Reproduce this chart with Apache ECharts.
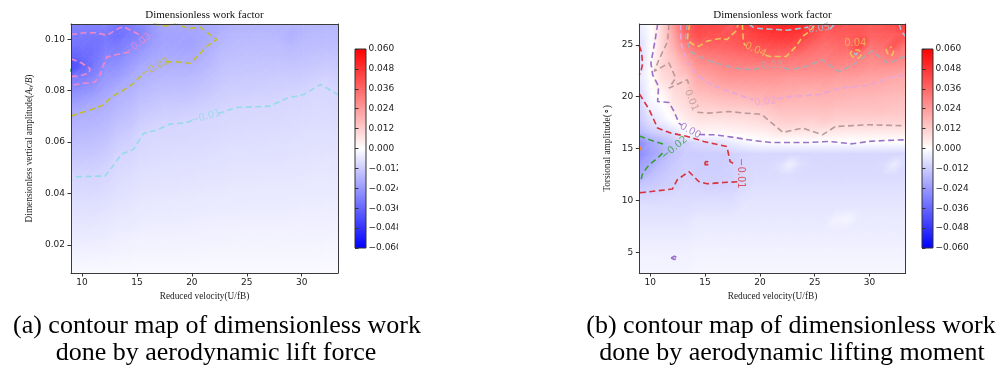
<!DOCTYPE html>
<html><head><meta charset="utf-8">
<script src="https://cdn.jsdelivr.net/npm/echarts@6/dist/echarts.min.js"></script>
<style>html,body{margin:0;padding:0;background:#fff}#c{width:1006px;height:371px}</style>
</head><body><div id="c"></div><script>
// ---------- grid nodes ----------
const xNodes = [9.0,10.06,11.11,12.17,13.23,14.28,15.34,16.40,17.45,18.51,19.57,20.62,21.68,22.73,23.79,24.85,25.90,26.96,28.02,29.07,30.13,31.19,32.24,33.3];
const yNodesA = [0.009,0.0132,0.0174,0.0217,0.0259,0.0301,0.0343,0.0385,0.0427,0.047,0.0512,0.0554,0.0596,0.0638,0.068,0.0723,0.0765,0.0807,0.0849,0.0891,0.0933,0.0976,0.1018,0.106];
const yNodesB = [3.0,4.04,5.09,6.13,7.17,8.22,9.26,10.3,11.35,12.39,13.43,14.48,15.52,16.57,17.61,18.65,19.7,20.74,21.78,22.83,23.87,24.91,25.96,27.0];

// ---------- tick labels ----------
const xTicks = [10,15,20,25,30];
const yTicksA = [0.02,0.04,0.06,0.08,0.10];
const yTicksB = [5,10,15,20,25];
const cbTicks = [-0.06,-0.048,-0.036,-0.024,-0.012,0,0.012,0.024,0.036,0.048,0.06];

// ---------- (a) work factor, one array per x node, bottom -> top ----------
const workA = [
[-0.0015,-0.0024,-0.0034,-0.0044,-0.0053,-0.0063,-0.0072,-0.0082,-0.0092,-0.0102,-0.0119,-0.0135,-0.0152,-0.0169,-0.0185,-0.0204,-0.0239,-0.0274,-0.031,-0.043,-0.037,-0.033,-0.031,-0.029],
[-0.0015,-0.0024,-0.0034,-0.0044,-0.0053,-0.0063,-0.0072,-0.0082,-0.0091,-0.0102,-0.0117,-0.0133,-0.0149,-0.0165,-0.018,-0.0196,-0.0228,-0.0266,-0.0304,-0.036,-0.035,-0.033,-0.0315,-0.0295],
[-0.0015,-0.0024,-0.0034,-0.0044,-0.0053,-0.0063,-0.0072,-0.0082,-0.0091,-0.0101,-0.0116,-0.0131,-0.0146,-0.0161,-0.0176,-0.0191,-0.0213,-0.0248,-0.0283,-0.0315,-0.033,-0.0335,-0.032,-0.0295],
[-0.0015,-0.0024,-0.0033,-0.0042,-0.0051,-0.006,-0.0069,-0.0078,-0.0087,-0.0096,-0.0107,-0.0122,-0.0137,-0.0152,-0.0167,-0.0181,-0.0196,-0.0218,-0.0241,-0.0265,-0.0288,-0.031,-0.0315,-0.029],
[-0.0014,-0.0022,-0.003,-0.0037,-0.0045,-0.0053,-0.0061,-0.0069,-0.0077,-0.0084,-0.0092,-0.01,-0.0116,-0.0132,-0.0148,-0.0164,-0.018,-0.0196,-0.0228,-0.0256,-0.0284,-0.031,-0.034,-0.032],
[-0.0014,-0.0021,-0.0029,-0.0036,-0.0044,-0.0051,-0.0059,-0.0066,-0.0074,-0.0081,-0.0089,-0.0096,-0.0108,-0.0123,-0.0138,-0.0154,-0.0169,-0.0185,-0.02,-0.023,-0.0257,-0.0286,-0.0314,-0.0305],
[-0.0013,-0.002,-0.0027,-0.0033,-0.004,-0.0047,-0.0053,-0.006,-0.0067,-0.0073,-0.008,-0.0087,-0.0093,-0.01,-0.0117,-0.0133,-0.015,-0.0167,-0.0183,-0.02,-0.023,-0.026,-0.0295,-0.028],
[-0.0013,-0.0019,-0.0026,-0.0033,-0.0039,-0.0045,-0.0052,-0.0058,-0.0065,-0.0071,-0.0078,-0.0084,-0.009,-0.0097,-0.0108,-0.0125,-0.0142,-0.0158,-0.0175,-0.0192,-0.021,-0.023,-0.0245,-0.024],
[-0.0013,-0.0019,-0.0026,-0.0032,-0.0038,-0.0045,-0.0051,-0.0057,-0.0063,-0.0069,-0.0076,-0.0082,-0.0088,-0.0095,-0.0101,-0.0118,-0.0135,-0.0151,-0.0167,-0.0184,-0.02,-0.0215,-0.022,-0.0205],
[-0.0013,-0.0019,-0.0026,-0.0032,-0.0038,-0.0044,-0.005,-0.0057,-0.0063,-0.0069,-0.0075,-0.0081,-0.0088,-0.0094,-0.01,-0.0117,-0.0133,-0.0149,-0.0165,-0.0182,-0.0199,-0.0215,-0.0218,-0.0203],
[-0.0013,-0.0019,-0.0025,-0.0031,-0.0037,-0.0044,-0.005,-0.0056,-0.0062,-0.0068,-0.0074,-0.008,-0.0086,-0.0092,-0.0098,-0.0113,-0.0131,-0.0149,-0.0166,-0.0184,-0.0202,-0.022,-0.0215,-0.0202],
[-0.0013,-0.0019,-0.0025,-0.0031,-0.0037,-0.0043,-0.0049,-0.0055,-0.0061,-0.0067,-0.0073,-0.0079,-0.0085,-0.0091,-0.0097,-0.0108,-0.0125,-0.0142,-0.0158,-0.0175,-0.0192,-0.0208,-0.0212,-0.0204],
[-0.0013,-0.0018,-0.0024,-0.003,-0.0036,-0.0042,-0.0048,-0.0054,-0.006,-0.0065,-0.0071,-0.0077,-0.0083,-0.0089,-0.0095,-0.0104,-0.0118,-0.0132,-0.0146,-0.0161,-0.0175,-0.0189,-0.0203,-0.0198],
[-0.0013,-0.0018,-0.0024,-0.003,-0.0035,-0.0041,-0.0047,-0.0052,-0.0058,-0.0064,-0.007,-0.0075,-0.0081,-0.0087,-0.0092,-0.0098,-0.011,-0.0121,-0.0133,-0.0144,-0.0156,-0.0167,-0.0179,-0.019],
[-0.0013,-0.0018,-0.0023,-0.0029,-0.0035,-0.004,-0.0046,-0.0051,-0.0056,-0.0062,-0.0067,-0.0072,-0.0078,-0.0084,-0.0089,-0.0095,-0.0105,-0.0116,-0.0127,-0.0137,-0.0148,-0.0159,-0.0169,-0.018],
[-0.0013,-0.0018,-0.0023,-0.0029,-0.0034,-0.004,-0.0045,-0.0051,-0.0056,-0.0062,-0.0067,-0.0072,-0.0078,-0.0083,-0.0089,-0.0094,-0.0104,-0.0115,-0.0125,-0.0136,-0.0147,-0.0158,-0.0168,-0.0178],
[-0.0013,-0.0018,-0.0023,-0.0029,-0.0034,-0.004,-0.0045,-0.005,-0.0056,-0.0061,-0.0066,-0.0072,-0.0077,-0.0083,-0.0088,-0.0093,-0.0102,-0.0113,-0.0124,-0.0135,-0.0146,-0.0157,-0.0167,-0.0176],
[-0.0013,-0.0018,-0.0023,-0.0029,-0.0034,-0.0039,-0.0045,-0.005,-0.0055,-0.006,-0.0066,-0.0071,-0.0076,-0.0082,-0.0087,-0.0092,-0.0101,-0.0111,-0.0122,-0.0133,-0.0145,-0.0156,-0.0166,-0.0175],
[-0.0013,-0.0018,-0.0023,-0.0029,-0.0034,-0.0039,-0.0044,-0.005,-0.0055,-0.006,-0.0065,-0.007,-0.0076,-0.0081,-0.0086,-0.0091,-0.0099,-0.0109,-0.012,-0.0132,-0.0145,-0.0158,-0.017,-0.0175],
[-0.0013,-0.0018,-0.0023,-0.0028,-0.0033,-0.0038,-0.0044,-0.0049,-0.0054,-0.0059,-0.0064,-0.0069,-0.0075,-0.008,-0.0085,-0.009,-0.0095,-0.0107,-0.012,-0.0135,-0.015,-0.0165,-0.0185,-0.0175],
[-0.0013,-0.0018,-0.0023,-0.0028,-0.0033,-0.0038,-0.0043,-0.0048,-0.0053,-0.0058,-0.0063,-0.0068,-0.0073,-0.0078,-0.0083,-0.0088,-0.0093,-0.0103,-0.0117,-0.0131,-0.0145,-0.0158,-0.017,-0.017],
[-0.0013,-0.0018,-0.0023,-0.0028,-0.0032,-0.0037,-0.0042,-0.0047,-0.0052,-0.0056,-0.0061,-0.0066,-0.0071,-0.0076,-0.008,-0.0085,-0.009,-0.0095,-0.011,-0.0126,-0.0142,-0.0156,-0.0165,-0.017],
[-0.0012,-0.0017,-0.0022,-0.0027,-0.0032,-0.0037,-0.0041,-0.0046,-0.0051,-0.0056,-0.006,-0.0065,-0.007,-0.0075,-0.0079,-0.0084,-0.0089,-0.0094,-0.0103,-0.012,-0.0137,-0.0152,-0.0162,-0.0168],
[-0.0012,-0.0017,-0.0022,-0.0027,-0.0032,-0.0038,-0.0043,-0.0048,-0.0053,-0.0058,-0.0063,-0.0068,-0.0073,-0.0078,-0.0084,-0.0089,-0.0094,-0.01,-0.0114,-0.0128,-0.0142,-0.0155,-0.0165,-0.017]
];

// ---------- (b) work factor, one array per x node, bottom -> top ----------
const workB = [
[-0.0025,-0.003,-0.0035,-0.0045,-0.0055,-0.0065,-0.007,-0.0095,-0.013,-0.019,-0.023,-0.027,-0.027,-0.017,-0.013,-0.011,-0.01,-0.008,-0.006,-0.008,-0.009,-0.008,-0.006,-0.004],
[-0.0025,-0.003,-0.0035,-0.0045,-0.0055,-0.0065,-0.0075,-0.0095,-0.0125,-0.015,-0.019,-0.022,-0.02,-0.012,-0.007,-0.004,-0.0015,-0.0005,0,0.0005,0,0,-0.0005,0],
[-0.0025,-0.003,-0.0035,-0.0045,-0.0055,-0.0065,-0.0075,-0.009,-0.0115,-0.013,-0.015,-0.0175,-0.017,-0.01,-0.004,-0.0015,0.0005,0.004,0.008,0.0105,0.0095,0.0095,0.01,0.01],
[-0.0025,-0.003,-0.0035,-0.0045,-0.0055,-0.0065,-0.0075,-0.0085,-0.0105,-0.0115,-0.0125,-0.014,-0.013,-0.007,0,0.004,0.007,0.009,0.011,0.012,0.015,0.019,0.022,0.025],
[-0.0025,-0.003,-0.0035,-0.0045,-0.0055,-0.0065,-0.0075,-0.0085,-0.0095,-0.01,-0.011,-0.012,-0.011,-0.001,0.004,0.007,0.0095,0.011,0.013,0.018,0.023,0.03,0.036,0.04],
[-0.002,-0.0025,-0.003,-0.004,-0.0045,-0.0055,-0.007,-0.0085,-0.0098,-0.011,-0.0115,-0.012,-0.009,0.002,0.006,0.0095,0.013,0.017,0.0205,0.025,0.029,0.036,0.042,0.043],
[-0.002,-0.0025,-0.003,-0.004,-0.0045,-0.0055,-0.007,-0.0085,-0.0105,-0.011,-0.0115,-0.0115,-0.008,0.002,0.006,0.01,0.014,0.018,0.022,0.026,0.031,0.037,0.0415,0.043],
[-0.002,-0.0025,-0.003,-0.004,-0.0045,-0.0055,-0.007,-0.0085,-0.0105,-0.011,-0.0115,-0.0115,-0.007,0.002,0.006,0.0105,0.015,0.0195,0.024,0.028,0.032,0.037,0.041,0.043],
[-0.002,-0.0025,-0.003,-0.004,-0.0045,-0.0055,-0.007,-0.0085,-0.01,-0.0105,-0.0105,-0.0105,-0.005,0.0025,0.0065,0.011,0.0155,0.02,0.025,0.029,0.033,0.038,0.04,0.039],
[-0.002,-0.0025,-0.003,-0.004,-0.0045,-0.0055,-0.006,-0.007,-0.0085,-0.009,-0.0095,-0.01,-0.003,0.003,0.007,0.011,0.016,0.0205,0.025,0.029,0.034,0.0395,0.042,0.046],
[-0.002,-0.0025,-0.003,-0.004,-0.0045,-0.0055,-0.006,-0.0065,-0.0075,-0.0085,-0.009,-0.0095,-0.0015,0.0035,0.008,0.0115,0.017,0.021,0.025,0.029,0.035,0.0405,0.045,0.048],
[-0.002,-0.0025,-0.003,-0.004,-0.0045,-0.0055,-0.006,-0.0065,-0.0075,-0.0085,-0.009,-0.0095,-0.001,0.004,0.009,0.013,0.0185,0.021,0.025,0.029,0.036,0.0415,0.047,0.05],
[-0.002,-0.0025,-0.003,-0.004,-0.0045,-0.0055,-0.006,-0.0065,-0.0075,-0.0085,-0.008,-0.0095,-0.001,0.006,0.011,0.0145,0.0185,0.021,0.025,0.029,0.035,0.042,0.048,0.051],
[-0.002,-0.0025,-0.003,-0.004,-0.0045,-0.0055,-0.006,-0.0065,-0.0075,-0.008,-0.004,-0.0095,-0.001,0.006,0.0115,0.0145,0.018,0.0205,0.024,0.0285,0.034,0.042,0.048,0.052],
[-0.002,-0.0025,-0.003,-0.004,-0.0045,-0.0055,-0.006,-0.0065,-0.0075,-0.0085,-0.008,-0.0095,-0.001,0.006,0.011,0.0145,0.0175,0.02,0.024,0.0285,0.033,0.04,0.046,0.051],
[-0.002,-0.0025,-0.003,-0.004,-0.0045,-0.0055,-0.006,-0.0065,-0.0075,-0.0085,-0.009,-0.0095,-0.001,0.006,0.0105,0.0145,0.0175,0.0195,0.024,0.028,0.0315,0.036,0.042,0.046],
[-0.002,-0.0025,-0.003,-0.004,-0.0045,-0.0055,-0.006,-0.0065,-0.0075,-0.0085,-0.009,-0.0095,-0.001,0.0055,0.012,0.015,0.018,0.0205,0.024,0.028,0.0305,0.034,0.038,0.042],
[-0.002,-0.0025,-0.003,-0.004,-0.0045,-0.003,-0.006,-0.0065,-0.0075,-0.0085,-0.009,-0.0095,-0.001,0.0055,0.0105,0.014,0.0175,0.0195,0.023,0.028,0.032,0.035,0.0385,0.041],
[-0.002,-0.0025,-0.003,-0.004,-0.0045,-0.0025,-0.006,-0.0065,-0.0075,-0.0085,-0.009,-0.0095,-0.001,0.005,0.0105,0.014,0.017,0.0195,0.023,0.027,0.031,0.036,0.039,0.04],
[-0.002,-0.0025,-0.003,-0.004,-0.0045,-0.005,-0.006,-0.0065,-0.0075,-0.0085,-0.009,-0.0095,-0.0005,0.005,0.0105,0.014,0.0165,0.019,0.0225,0.027,0.031,0.045,0.04,0.04],
[-0.002,-0.0025,-0.003,-0.004,-0.0045,-0.005,-0.006,-0.0065,-0.0075,-0.0085,-0.009,-0.0095,-0.001,0.005,0.0105,0.014,0.0165,0.019,0.022,0.0255,0.0285,0.033,0.037,0.039],
[-0.002,-0.0025,-0.003,-0.004,-0.0045,-0.005,-0.006,-0.0065,-0.0075,-0.0085,-0.0085,-0.0095,-0.001,0.005,0.0105,0.014,0.016,0.0185,0.0215,0.026,0.03,0.0345,0.038,0.04],
[-0.002,-0.0025,-0.003,-0.004,-0.0045,-0.005,-0.006,-0.0065,-0.0075,-0.0085,-0.005,-0.0095,-0.001,0.005,0.0105,0.0135,0.0155,0.018,0.0205,0.0255,0.031,0.04,0.038,0.042],
[-0.002,-0.0025,-0.003,-0.004,-0.0045,-0.005,-0.006,-0.0065,-0.0075,-0.0085,-0.0085,-0.0095,-0.001,0.005,0.0105,0.0135,0.015,0.0175,0.02,0.0245,0.029,0.032,0.04,0.048]
];

// ---------- contour lines (a): segments of [U/fB, Ah/B] ----------
const contoursA = {
  '-0.03': [
    [[9.0,0.1019],[10.27,0.1026],[11.34,0.1026],[12.25,0.1016],[13.31,0.1042],[13.76,0.1050],[14.98,0.1024],[15.5,0.1010]],
    [[14.3,0.0950],[13.46,0.0944],[12.25,0.0931],[11.94,0.0899],[11.64,0.0860],[11.18,0.0834],[9.97,0.0828],[9.0,0.0821]],
    [[9.0,0.0925],[9.97,0.0908],[10.73,0.0886],[10.64,0.0869],[9.66,0.0856],[9.0,0.0856]]
  ],
  '-0.04': [
    [[9.0,0.0874],[9.15,0.0880],[9.0,0.0886]]
  ],
  '-0.02': [
    [[9.0,0.0702],[10.88,0.0727],[11.94,0.0744],[12.70,0.0776],[13.76,0.0802],[14.67,0.0828],[15.44,0.0860],[15.65,0.0868]],
    [[17.65,0.0913],[18.93,0.0912],[19.84,0.0906],[20.29,0.0925],[21.36,0.0973],[22.27,0.0999],[21.36,0.1028],[20.75,0.1048],[19.68,0.1042],[18.62,0.1060]],
    [[16.49,0.1060],[17.56,0.1052],[18.56,0.1060]]
  ],
  '-0.01': [
    [[9.45,0.0465],[12.1,0.0468],[13.0,0.0517],[13.6,0.0553],[14.7,0.0572],[15.6,0.0634],[16.8,0.0647],[18.0,0.0670],[19.4,0.0675],[20.1,0.0685]],
    [[22.4,0.0711],[24.1,0.0735],[27.1,0.0740],[28.6,0.0770],[30.2,0.0785],[31.7,0.0825],[33.3,0.0785]]
  ]
};
const labelsA = [
  {text:'\u22120.03', level:'-0.03', at:[15.1,0.0981]},
  {text:'\u22120.02', level:'-0.02', at:[16.65,0.0890]},
  {text:'\u22120.01', level:'-0.01', at:[21.25,0.0698]}
];

// ---------- contour lines (b): segments of [U/fB, degrees] ----------
const contoursB = {
  '-0.03': [ [[9.0,14.8],[9.12,15.0],[9.0,15.2]] ],
  '-0.02': [
    [[9.0,16.2],[9.16,16.16],[10.36,15.68],[11.3,15.4]],
    [[11.12,14.55],[10.67,14.07],[9.91,13.43],[9.31,12.63],[9.16,11.98],[9.0,11.9]]
  ],
  '-0.01': [
    [[9.0,24.9],[9.2,24.3],[9.3,23.2],[9.15,22.4],[9.0,22.1]],
    [[9.0,20.25],[9.16,20.01],[9.91,18.73],[10.67,16.97],[11.87,16.49],[13.38,16.16],[14.87,15.68],[16.99,15.19],[17.28,13.75],[17.6,13.55]],
    [[17.95,11.8],[17.44,11.76],[16.68,11.72],[15.18,11.6],[14.42,11.82],[13.52,12.78],[12.47,11.99],[12.02,11.09],[9.31,10.76],[9.0,10.74]],
    [[14.95,13.45],[15.05,13.75],[15.35,13.72],[15.3,13.45],[14.95,13.45]]
  ],
  '0.00': [
    [[10.67,27.0],[10.45,25.48],[10.06,23.24],[10.22,22.1],[10.76,20.98],[10.67,19.53],[11.71,19.44],[12.17,18.57],[12.62,17.45],[12.85,17.25]],
    [[14.45,16.35],[15.93,16.32],[17.44,16.1],[18.94,15.84],[20.14,15.68],[21.05,15.58],[22.7,15.58],[24.5,15.58],[26.3,15.68],[28.4,15.45],[29.9,15.68],[31.4,15.77],[33.3,15.84]],
    [[11.9,4.45],[12.2,4.62],[12.5,4.45],[12.2,4.3],[11.9,4.45]]
  ],
  '0.01': [
    [[11.71,27.0],[11.57,25.3],[10.81,23.6],[10.36,22.43],[11.71,23.24],[12.32,21.79],[11.71,20.82],[13.38,21.62],[13.6,20.9]],
    [[14.3,18.5],[15.33,18.41],[17.13,18.57],[18.64,18.41],[20.14,18.3],[22.1,16.55],[23.9,16.97],[25.7,16.32],[26.9,17.12],[29.9,17.29],[33.3,17.19]]
  ],
  '0.02': [
    [[12.75,27.0],[12.8,25.2],[13.3,23.4],[14.3,22.0],[15.6,21.1],[17.2,20.5],[18.8,19.9],[19.4,19.7]],
    [[21.6,19.8],[22.7,20.0],[25.4,20.2],[27.2,20.8],[29.9,21.1],[31.7,21.8],[33.3,22.1]]
  ],
  '0.03': [
    [[13.38,27.0],[13.22,25.8],[13.67,24.35],[14.73,23.72],[15.93,23.24],[17.73,22.75],[19.24,22.59],[20.0,22.75]],
    [[22.2,22.75],[22.7,22.6],[24.2,22.9],[25.7,23.55],[27.2,22.4],[28.7,23.2],[30.2,24.4],[31.7,23.2],[33.3,23.9]]
  ],
  '0.04': [
    [[13.6,27.0],[13.45,26.1],[13.38,25.4],[13.97,25.0],[14.42,24.84],[15.18,25.35],[16.38,25.6],[17.0,25.5],[17.89,26.4],[18.0,27.0]],
    [[18.4,27.0],[18.5,25.2],[18.7,24.9]],
    [[20.5,24.0],[20.89,23.87],[22.4,23.87],[23.3,24.84],[23.9,25.8],[24.5,26.28],[25.1,27.0]],
    [[28.2,24.2],[28.5,23.8],[29.0,23.7],[29.3,24.1],[29.0,24.5],[28.5,24.5],[28.2,24.2]],
    [[31.5,24.6],[31.7,24.0],[32.1,24.0],[32.2,24.4],[31.9,24.8]]
  ],
  '0.05': [
    [[19.0,27.0],[19.5,26.6],[21.0,26.5],[22.5,26.4],[24.4,26.7]],
    [[26.4,26.5],[26.8,27.0]],
    [[32.7,27.0],[32.9,26.3],[33.3,25.8]],
    [[28.6,24.2],[28.75,24.0],[28.9,24.2],[28.75,24.35],[28.6,24.2]]
  ]
};
const labelsB = [
  {text:'\u22120.02', level:'-0.02', at:[12.2,15.05]},
  {text:'\u22120.01', level:'-0.01', at:[18.25,12.6]},
  {text:'0.00', level:'0.00', at:[13.65,16.7]},
  {text:'0.01', level:'0.01', at:[13.75,19.65]},
  {text:'0.02', level:'0.02', at:[20.5,19.5]},
  {text:'0.03', level:'0.03', at:[21.1,23.0]},
  {text:'0.04', level:'0.04', at:[19.6,24.5]},
  {text:'0.04', level:'0.04', at:[28.7,25.1]},
  {text:'0.05', level:'0.05', at:[25.4,26.55]}
];

// ---------- styles ----------
const lineColor = {'-0.04':'#3fae3f', '-0.03':'#ee88c8', '-0.02':'#c4bd2c', '-0.01':'#95dbe8'};
const lineColorB = {
  '-0.03':'#ff8c1a', '-0.02':'#35a035', '-0.01':'#d9323a', '0.00':'#9a6fc8',
  '0.01':'#b99a98', '0.02':'#e6a6dc', '0.03':'#a9aab2', '0.04':'#ecc25a', '0.05':'#9fc9d8'
};
const labelAngleA = [38, 28, 15];
const labelAngleB = [40, -90, -28, -68, 6, 4, -25, 0, 8];
const VMIN = -0.06, VMAX = 0.06;
const SERIF = '"Liberation Serif","Times New Roman",serif';
const SANS = '"DejaVu Sans",sans-serif';

// matplotlib "bwr" colour map
function bwr(v){
  let t = (v - VMIN) / (VMAX - VMIN);
  t = Math.max(0, Math.min(1, t));
  let r, g, b;
  if (t < 0.5) { const k = t / 0.5; r = g = Math.round(255 * k); b = 255; }
  else { const k = (1 - t) / 0.5; r = 255; g = b = Math.round(255 * k); }
  return 'rgb(' + r + ',' + g + ',' + b + ')';
}
// linear (Gouraud-like) shading of one triangle using a global linear gradient
function triFill(P, V){
  const p0 = P[0], p1 = P[1], p2 = P[2];
  const v0 = V[0], v1 = V[1], v2 = V[2];
  const ax = p1[0]-p0[0], ay = p1[1]-p0[1], bx = p2[0]-p0[0], by = p2[1]-p0[1];
  const det = ax*by - ay*bx;
  const lo = Math.min(v0,v1,v2), hi = Math.max(v0,v1,v2);
  if (Math.abs(det) < 1e-9 || hi - lo < 1e-9) return bwr((v0+v1+v2)/3);
  const d1 = v1 - v0, d2 = v2 - v0;
  const gx = (d1*by - d2*ay) / det;
  const gy = (ax*d2 - bx*d1) / det;
  const g2 = gx*gx + gy*gy;
  if (g2 < 1e-18) return bwr((v0+v1+v2)/3);
  const la = (lo - v0) / g2, lb = (hi - v0) / g2;
  const stops = [{offset:0, color:bwr(lo)}];
  if (lo < 0 && hi > 0) stops.push({offset:(0 - lo)/(hi - lo), color:bwr(0)});
  stops.push({offset:1, color:bwr(hi)});
  return new echarts.graphic.LinearGradient(p0[0]+la*gx, p0[1]+la*gy, p0[0]+lb*gx, p0[1]+lb*gy, stops, true);
}
function fieldSeries(work, xs, ys, xi, yi){
  const data = [];
  for (let i = 0; i < xs.length - 1; i++)
    for (let j = 0; j < ys.length - 1; j++) data.push([xs[i], ys[j], i, j]);
  return {type:'custom', xAxisIndex:xi, yAxisIndex:yi, data:data, z:1, silent:true, animation:false, clip:true,
    renderItem:(params, api)=>{
      const i = api.value(2), j = api.value(3);
      const p00 = api.coord([xs[i], ys[j]]), p10 = api.coord([xs[i+1], ys[j]]);
      const p01 = api.coord([xs[i], ys[j+1]]), p11 = api.coord([xs[i+1], ys[j+1]]);
      const v00 = work[i][j], v10 = work[i+1][j], v01 = work[i][j+1], v11 = work[i+1][j+1];
      const f1 = triFill([p00,p10,p11],[v00,v10,v11]);
      const f2 = triFill([p00,p11,p01],[v00,v11,v01]);
      return {type:'group', children:[
        {type:'polygon', shape:{points:[p00,p10,p11]}, style:{fill:f1, stroke:f1, lineWidth:0.8}},
        {type:'polygon', shape:{points:[p00,p11,p01]}, style:{fill:f2, stroke:f2, lineWidth:0.8}}
      ]};
    }};
}
function contourSeries(contours, colors, xi, yi){
  const s = [];
  Object.keys(contours).forEach(level=>{
    contours[level].forEach(seg=>{
      s.push({type:'line', xAxisIndex:xi, yAxisIndex:yi, data:seg, symbol:'none', z:6, silent:true,
        lineStyle:{color:colors[level], width:1.6, type:[6,3.5]}, animation:false, clip:true});
    });
  });
  return s;
}
function labelSeries(labels, angles, colors, xi, yi){
  return labels.map((l,k)=>({type:'scatter', xAxisIndex:xi, yAxisIndex:yi, symbolSize:1, z:7, silent:true,
    itemStyle:{color:'rgba(0,0,0,0)'},
    data:[{name:l.text, value:l.at}],
    label:{show:true, position:'inside', formatter:'{b}', color:colors[l.level], fontSize:10, fontFamily:SANS, rotate:angles[k]},
    animation:false}));
}
function colorbarSeries(xi, yi){
  return {type:'custom', xAxisIndex:xi, yAxisIndex:yi, data:[[0,0]], z:2, silent:true, animation:false,
    renderItem:(params, api)=>{
      const p0 = api.coord([0, VMAX]); const p1 = api.coord([1, VMIN]);
      return {type:'rect', shape:{x:p0[0], y:p0[1], width:p1[0]-p0[0], height:p1[1]-p0[1]},
        style:{fill:new echarts.graphic.LinearGradient(0,0,0,1,[{offset:0,color:bwr(VMAX)},{offset:0.5,color:bwr(0)},{offset:1,color:bwr(VMIN)}]), stroke:'#333', lineWidth:1}};
    }};
}
const frameLine = {show:true, onZero:false, lineStyle:{color:'#3a3a3a', width:1}};
const tickStyle = {color:'#333', width:1};
function mainX(grid, name){
  return {gridIndex:grid, type:'value', min:9, max:33.3, position:'bottom', z:8,
    axisLine:frameLine, axisTick:{show:true, customValues:xTicks, length:3.5, lineStyle:tickStyle},
    axisLabel:{customValues:xTicks, fontSize:9, fontFamily:SANS, color:'#222', margin:5},
    splitLine:{show:false}, name:name, nameLocation:'middle', nameGap:18,
    nameTextStyle:{fontFamily:SERIF, fontSize:9.3, color:'#222'}};
}
function frameAxis(grid, pos, min, max){
  return {gridIndex:grid, type:'value', min:min, max:max, position:pos, z:8,
    axisLine:frameLine, axisTick:{show:false}, axisLabel:{show:false}, splitLine:{show:false}};
}
function cbAxis(grid){
  return {gridIndex:grid, type:'value', min:VMIN, max:VMAX, position:'right', z:8,
    axisLine:{show:false}, axisTick:{show:true, customValues:cbTicks, length:3.5, lineStyle:tickStyle},
    axisLabel:{customValues:cbTicks, formatter:v=>(v<0?'\u2212':'')+Math.abs(v).toFixed(3), fontSize:9, fontFamily:SANS, color:'#222', margin:2.5},
    splitLine:{show:false}};
}
const chart = echarts.init(document.getElementById('c'), null, {renderer:'canvas'});
const option = {
  animation:false,
  backgroundColor:'#ffffff',
  grid:[
    {left:71, top:24, width:267, height:249},
    {left:639.3, top:24, width:266.4, height:249},
    {left:355, top:49, width:11, height:199},
    {left:922, top:49, width:11, height:199}
  ],
  xAxis:[
    mainX(0,'Reduced velocity(U/fB)'),
    frameAxis(0,'top',9,33.3),
    mainX(1,'Reduced velocity(U/fB)'),
    frameAxis(1,'top',9,33.3),
    {gridIndex:2, type:'value', min:0, max:1, show:false},
    {gridIndex:3, type:'value', min:0, max:1, show:false}
  ],
  yAxis:[
    {gridIndex:0, type:'value', min:0.009, max:0.106, position:'left', z:8,
      axisLine:frameLine, axisTick:{show:true, customValues:yTicksA, length:3.5, lineStyle:tickStyle},
      axisLabel:{customValues:yTicksA, formatter:v=>v.toFixed(2), fontSize:9, fontFamily:SANS, color:'#222', margin:6},
      splitLine:{show:false},
      name:'Dimensionless vertical amplitude({i|A}{s|h}{i|/B})', nameLocation:'middle', nameGap:36,
      nameTextStyle:{fontFamily:SERIF, fontSize:9.3, color:'#222',
        rich:{i:{fontFamily:SERIF, fontSize:9.3, fontStyle:'italic', color:'#222'},
              s:{fontFamily:SERIF, fontSize:6.5, fontStyle:'italic', color:'#222', verticalAlign:'bottom', padding:[3,0,0,0]}}}},
    frameAxis(0,'right',0.009,0.106),
    {gridIndex:1, type:'value', min:3, max:27, position:'left', z:8,
      axisLine:frameLine, axisTick:{show:true, customValues:yTicksB, length:3.5, lineStyle:tickStyle},
      axisLabel:{customValues:yTicksB, fontSize:9, fontFamily:SANS, color:'#222', margin:6},
      splitLine:{show:false},
      name:'Torsional amplitude(\u2218)', nameLocation:'middle', nameGap:27,
      nameTextStyle:{fontFamily:SERIF, fontSize:9.3, color:'#222'}},
    frameAxis(1,'right',3,27),
    cbAxis(2),
    cbAxis(3)
  ],
  series:[
    fieldSeries(workA, xNodes, yNodesA, 0, 0),
    fieldSeries(workB, xNodes, yNodesB, 2, 2),
    colorbarSeries(4,4),
    colorbarSeries(5,5),
    ...contourSeries(contoursA, lineColor, 0, 0),
    ...contourSeries(contoursB, lineColorB, 2, 2),
    ...labelSeries(labelsA, labelAngleA, lineColor, 0, 0),
    ...labelSeries(labelsB, labelAngleB, lineColorB, 2, 2)
  ],
  graphic:[
    {type:'rect', z:100, shape:{x:398, y:40, width:190, height:222}, style:{fill:'#ffffff'}},
    {type:'text', z:101, x:204.5, y:15.5, style:{text:'Dimensionless work factor', fontFamily:SERIF, fontSize:11, fill:'#111', align:'center', verticalAlign:'middle', textAlign:'center', textVerticalAlign:'middle'}},
    {type:'text', z:101, x:772.5, y:15.5, style:{text:'Dimensionless work factor', fontFamily:SERIF, fontSize:11, fill:'#111', align:'center', verticalAlign:'middle', textAlign:'center', textVerticalAlign:'middle'}},
    {type:'text', z:101, x:217, y:326, style:{text:'(a) contour map of dimensionless work', fontFamily:SERIF, fontSize:26, fill:'#000', align:'center', verticalAlign:'middle', textAlign:'center', textVerticalAlign:'middle'}},
    {type:'text', z:101, x:216, y:353, style:{text:'done by aerodynamic lift force', fontFamily:SERIF, fontSize:26, fill:'#000', align:'center', verticalAlign:'middle', textAlign:'center', textVerticalAlign:'middle'}},
    {type:'text', z:101, x:791, y:326, style:{text:'(b) contour map of dimensionless work', fontFamily:SERIF, fontSize:26, fill:'#000', align:'center', verticalAlign:'middle', textAlign:'center', textVerticalAlign:'middle'}},
    {type:'text', z:101, x:792, y:353, style:{text:'done by aerodynamic lifting moment', fontFamily:SERIF, fontSize:26, fill:'#000', align:'center', verticalAlign:'middle', textAlign:'center', textVerticalAlign:'middle'}}
  ]
};
chart.setOption(option);
</script></body></html>
